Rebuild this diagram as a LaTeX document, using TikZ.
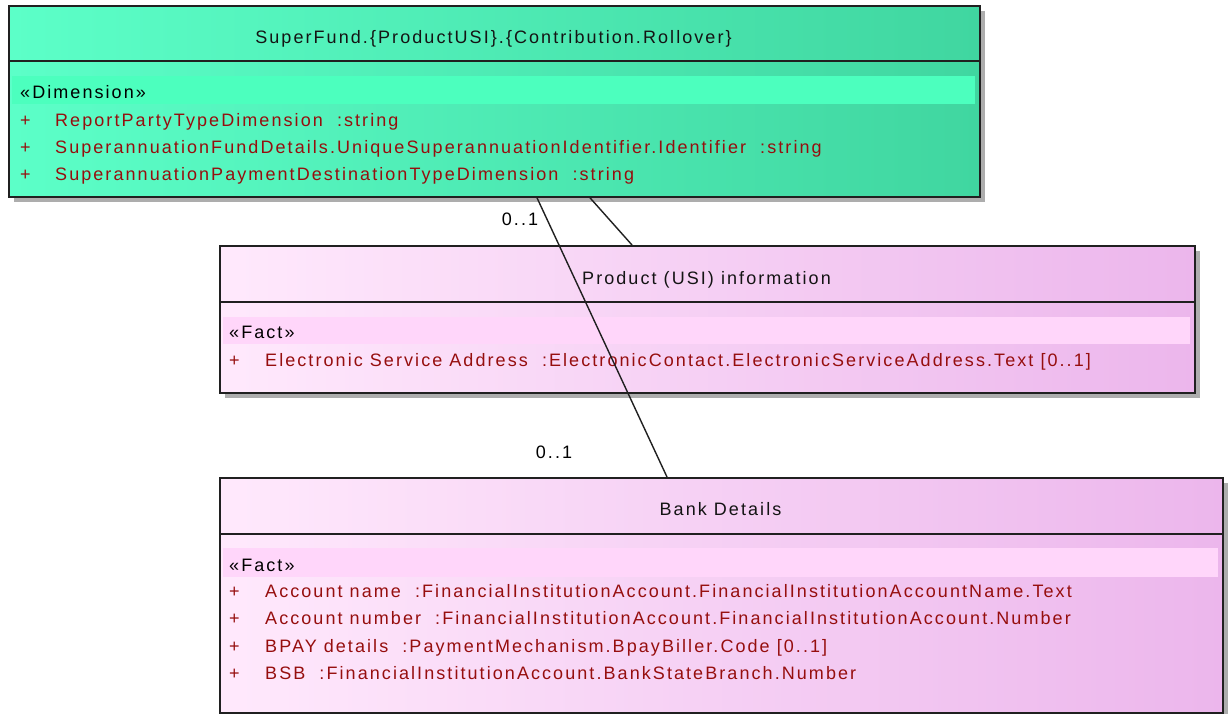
\documentclass[tikz,border=0pt]{standalone}
\usepackage{fontspec}
\setmainfont{Liberation Sans}[LetterSpace=11.5]
\usetikzlibrary{shadows}
\definecolor{attrred}{RGB}{150,14,14}
\definecolor{greenL}{RGB}{92,255,200}
\definecolor{greenR}{RGB}{64,214,160}
\definecolor{greenBand}{RGB}{76,255,190}
\definecolor{pinkL}{RGB}{255,233,252}
\definecolor{pinkR}{RGB}{236,182,236}
\definecolor{pinkBand}{RGB}{255,214,250}
\definecolor{edge}{RGB}{32,32,32}
\definecolor{titletxt}{RGB}{20,20,20}
\tikzset{
  umlbox/.style={draw=edge, line width=1.8pt, rectangle, inner sep=0pt, anchor=north west,
    drop shadow={shadow xshift=5pt, shadow yshift=-5pt, fill=black!32, opacity=1}},
  greenbox/.style={umlbox, left color=greenL, right color=greenR},
  pinkbox/.style={umlbox, left color=pinkL, right color=pinkR},
  sep/.style={draw=edge, line width=1.8pt},
  txt/.style={inner sep=0pt, anchor=base west, font=\fontsize{18}{20}\selectfont},
  ttl/.style={inner sep=0pt, anchor=base, text=titletxt, font=\fontsize{18}{20}\selectfont},
  attr/.style={txt, text=attrred},
  stereo/.style={txt, text=black},
  mult/.style={inner sep=0pt, anchor=base, text=black, font=\fontsize{18}{20}\selectfont},
  assoc/.style={draw=edge, line width=1.4pt}
}
\begin{document}
\begin{tikzpicture}[x=1pt,y=-1pt]
\useasboundingbox (0,0) rectangle (1228,713);
\fill[white] (0,0) rectangle (1228,713);

% ---- SuperFund box
\node[greenbox, minimum width=971pt, minimum height=191pt] (super) at (8,5) {};
\draw[sep] (8,61) -- (979,61);
\fill[greenBand] (12,76) rectangle (975,104);
\node[ttl] (superT) at (493.5,43) {SuperFund.\{ProductUSI\}.\{Contribution.Rollover\}};
\node[stereo] (superS) at (20,98) {«Dimension»};
\node[attr] (sp1) at (20,126) {+};
\node[attr] (sa1) at (55,126) {ReportPartyTypeDimension\ \ :string};
\node[attr] (sp2) at (20,153) {+};
\node[attr] (sa2) at (55,153) {SuperannuationFundDetails.UniqueSuperannuationIdentifier.Identifier\ \ :string};
\node[attr] (sp3) at (20,180) {+};
\node[attr] (sa3) at (55,180) {SuperannuationPaymentDestinationTypeDimension\ \ :string};

% ---- Product box
\node[pinkbox, minimum width=975pt, minimum height=147pt] (prod) at (219,245) {};
\draw[sep] (219,302) -- (1194,302);
\fill[pinkBand] (223,317) rectangle (1190,344);
\node[ttl] (prodT) at (706.5,284) {Product (USI) information};
\node[stereo] (prodS) at (229,338) {«Fact»};
\node[attr] (pp1) at (229,366) {+};
\node[attr] (pa1) at (265,366) {Electronic Service Address\ \ :ElectronicContact.ElectronicServiceAddress.Text [0..1]};

% ---- Bank box
\node[pinkbox, minimum width=1003pt, minimum height=235pt] (bank) at (219,477) {};
\draw[sep] (219,534) -- (1222,534);
\fill[pinkBand] (223,548) rectangle (1218,577);
\node[ttl] (bankT) at (720.5,515) {Bank Details};
\node[stereo] (bankS) at (229,571) {«Fact»};
\node[attr] (bp1) at (229,597) {+};
\node[attr] (ba1) at (265,597) {Account name\ \ :FinancialInstitutionAccount.FinancialInstitutionAccountName.Text};
\node[attr] (bp2) at (229,624) {+};
\node[attr] (ba2) at (265,624) {Account number\ \ :FinancialInstitutionAccount.FinancialInstitutionAccount.Number};
\node[attr] (bp3) at (229,652) {+};
\node[attr] (ba3) at (265,652) {BPAY details\ \ :PaymentMechanism.BpayBiller.Code [0..1]};
\node[attr] (bp4) at (229,679) {+};
\node[attr] (ba4) at (265,679) {BSB\ \ :FinancialInstitutionAccount.BankStateBranch.Number};

% ---- connectors
\draw[assoc] ([xshift=529pt]super.south west) -- ([xshift=448pt]bank.north west);
\draw[assoc] ([xshift=582pt]super.south west) -- ([xshift=413pt]prod.north west);
\node[mult] (m1) at (520,225) {0..1};
\node[mult] (m2) at (554,458) {0..1};
\end{tikzpicture}
\end{document}
